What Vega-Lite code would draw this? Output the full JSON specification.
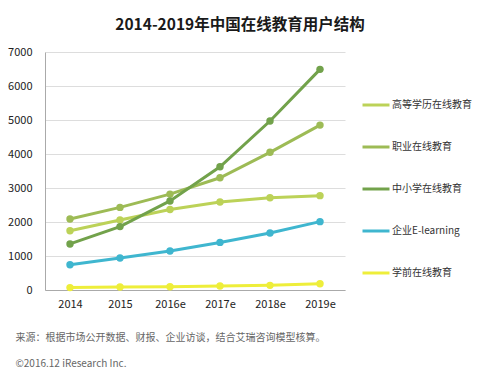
{
  "$schema": "https://vega.github.io/schema/vega-lite/v6.json",
  "autosize": "none",
  "width": 300,
  "height": 238,
  "padding": {"left": 45, "top": 52, "right": 135, "bottom": 86},
  "background": "#ffffff",
  "title": {
    "text": "2014-2019年中国在线教育用户结构",
    "font": "Noto Sans CJK SC",
    "fontSize": 15.5,
    "fontWeight": "bold",
    "color": "#1a1a1a",
    "anchor": "middle",
    "dx": 45,
    "offset": 13
  },
  "data": {
    "values": [
      {"year": "2014", "series": "高等学历在线教育", "value": 1745},
      {"year": "2015", "series": "高等学历在线教育", "value": 2060},
      {"year": "2016e", "series": "高等学历在线教育", "value": 2370},
      {"year": "2017e", "series": "高等学历在线教育", "value": 2590},
      {"year": "2018e", "series": "高等学历在线教育", "value": 2715},
      {"year": "2019e", "series": "高等学历在线教育", "value": 2775},
      {"year": "2014", "series": "职业在线教育", "value": 2090},
      {"year": "2015", "series": "职业在线教育", "value": 2430},
      {"year": "2016e", "series": "职业在线教育", "value": 2820},
      {"year": "2017e", "series": "职业在线教育", "value": 3300},
      {"year": "2018e", "series": "职业在线教育", "value": 4050},
      {"year": "2019e", "series": "职业在线教育", "value": 4850},
      {"year": "2014", "series": "中小学在线教育", "value": 1355},
      {"year": "2015", "series": "中小学在线教育", "value": 1865},
      {"year": "2016e", "series": "中小学在线教育", "value": 2620},
      {"year": "2017e", "series": "中小学在线教育", "value": 3625},
      {"year": "2018e", "series": "中小学在线教育", "value": 4970},
      {"year": "2019e", "series": "中小学在线教育", "value": 6490},
      {"year": "2014", "series": "企业E-learning", "value": 745},
      {"year": "2015", "series": "企业E-learning", "value": 940},
      {"year": "2016e", "series": "企业E-learning", "value": 1145},
      {"year": "2017e", "series": "企业E-learning", "value": 1400},
      {"year": "2018e", "series": "企业E-learning", "value": 1675},
      {"year": "2019e", "series": "企业E-learning", "value": 2010},
      {"year": "2014", "series": "学前在线教育", "value": 70},
      {"year": "2015", "series": "学前在线教育", "value": 88},
      {"year": "2016e", "series": "学前在线教育", "value": 98},
      {"year": "2017e", "series": "学前在线教育", "value": 118},
      {"year": "2018e", "series": "学前在线教育", "value": 137},
      {"year": "2019e", "series": "学前在线教育", "value": 186}
    ]
  },
  "mark": {"type": "line", "strokeWidth": 3, "point": {"filled": true, "size": 55}},
  "encoding": {
    "x": {
      "field": "year",
      "type": "ordinal",
      "sort": ["2014", "2015", "2016e", "2017e", "2018e", "2019e"],
      "axis": {
        "labelAngle": 0,
        "labelFont": "Noto Sans CJK SC",
        "labelFontSize": 11,
        "labelColor": "#222",
        "labelPadding": 8,
        "ticks": false,
        "domainColor": "#aaaaaa",
        "grid": false,
        "title": ["来源：根据市场公开数据、财报、企业访谈，结合艾瑞咨询模型核算。", "©2016.12 iResearch Inc."],
        "titleFont": "Noto Sans CJK SC",
        "titleFontSize": 10,
        "titleFontWeight": "normal",
        "titleColor": "#666666",
        "titleAnchor": "start",
        "titleAlign": "left",
        "titleBaseline": "top",
        "titleX": -30,
        "titleY": 42,
        "titleLineHeight": 26
      }
    },
    "y": {
      "field": "value",
      "type": "quantitative",
      "scale": {"domain": [0, 7000]},
      "axis": {
        "values": [0, 1000, 2000, 3000, 4000, 5000, 6000, 7000],
        "format": "d",
        "labelFont": "Noto Sans CJK SC",
        "labelFontSize": 11,
        "labelColor": "#222",
        "labelPadding": 13,
        "ticks": false,
        "domain": true,
        "domainColor": "#aaaaaa",
        "gridColor": "#dddddd",
        "title": null
      }
    },
    "color": {
      "field": "series",
      "type": "nominal",
      "scale": {
        "domain": ["高等学历在线教育", "职业在线教育", "中小学在线教育", "企业E-learning", "学前在线教育"],
        "range": ["#bcd258", "#9dbb55", "#72a24b", "#3fb6cf", "#eeee3a"]
      },
      "legend": {
        "title": null,
        "orient": "none",
        "legendX": 316,
        "legendY": 38,
        "symbolType": "stroke",
        "symbolSize": 729,
        "symbolStrokeWidth": 3,
        "labelFont": "Noto Sans CJK SC",
        "labelFontSize": 10,
        "labelColor": "#333",
        "labelOffset": 1,
        "labelLimit": 200,
        "rowPadding": 21
      }
    }
  },
  "config": {"view": {"stroke": null}}
}
